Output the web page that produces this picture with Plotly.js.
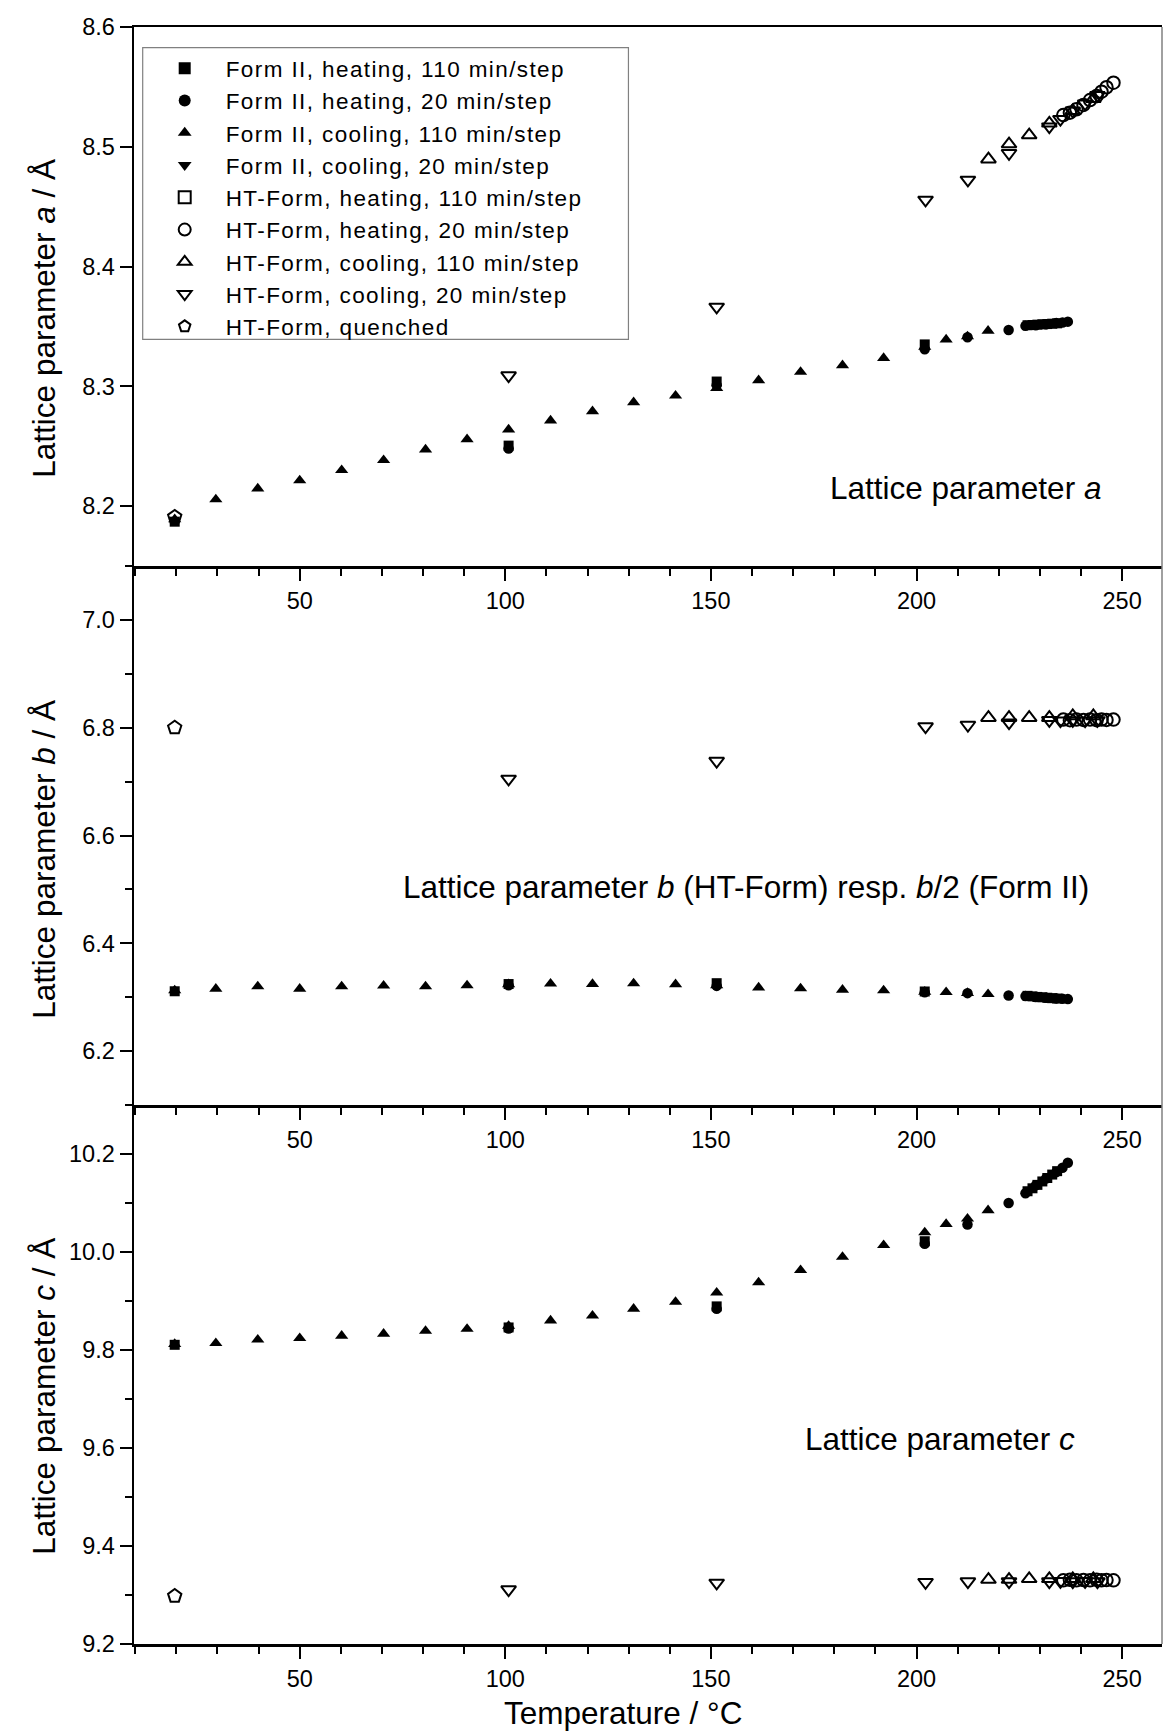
<!DOCTYPE html>
<html>
<head>
<meta charset="utf-8">
<script src="https://cdn.plot.ly/plotly-3.0.1.min.js"></script>
<style>
html,body{margin:0;padding:0;background:#fff;}
#chart{width:1163px;height:1731px;}
.legendtext{letter-spacing:1.4px;}
</style>
</head>
<body>
<div id="chart"></div>
<script>
// ---------------- DATA ----------------
// Form II, heating, 110 min/step (filled square)
const T_f2_heat110 = [19.6, 100.8, 151.4, 202.0, 227.0, 228.2, 229.4, 230.6, 231.8, 233.0, 234.2];
const a_f2_heat110 = [8.187, 8.2505, 8.304, 8.335, 8.3510, 8.3512, 8.3515, 8.3518, 8.3520, 8.3523, 8.3526];
const b_f2_heat110 = [6.3110, 6.3244, 6.3260, 6.3106, 6.3025, 6.3015, 6.3005, 6.2998, 6.2990, 6.2982, 6.2975];
const c_f2_heat110 = [9.8106, 9.8460, 9.8890, 10.0220, 10.124, 10.130, 10.137, 10.144, 10.151, 10.158, 10.165];

// Form II, heating, 20 min/step (filled circle)
const T_f2_heat20 = [100.8, 151.4, 202.0, 212.4, 222.4, 226.5, 229.0, 231.5, 234.0, 235.5, 236.8];
const a_f2_heat20 = [8.2480, 8.3010, 8.3310, 8.3410, 8.3470, 8.3505, 8.3510, 8.3518, 8.3528, 8.3533, 8.3540];
const b_f2_heat20 = [6.3220, 6.3210, 6.3090, 6.3075, 6.3031, 6.3020, 6.3005, 6.2990, 6.2978, 6.2970, 6.2965];
const c_f2_heat20 = [9.8440, 9.8840, 10.0170, 10.0560, 10.1000, 10.1200, 10.1360, 10.1500, 10.1630, 10.1720, 10.1820];

// Form II, cooling, 110 min/step (filled triangle up)
const T_f2_cool110 = [19.6, 29.6, 39.8, 50.0, 60.2, 70.4, 80.6, 90.7, 100.8, 111.0, 121.2, 131.2, 141.4, 151.4, 161.6, 171.8, 182.0, 192.0, 202.0, 207.2, 212.4, 217.4];
const a_f2_cool110 = [8.189, 8.2056, 8.2147, 8.2214, 8.2300, 8.2383, 8.2472, 8.2558, 8.2639, 8.2714, 8.2792, 8.2867, 8.2922, 8.2986, 8.3050, 8.3120, 8.3175, 8.3236, 8.3330, 8.3390, 8.3417, 8.3464];
const b_f2_cool110 = [6.3125, 6.3156, 6.3200, 6.3156, 6.3200, 6.3213, 6.3200, 6.3219, 6.3240, 6.3250, 6.3244, 6.3256, 6.3238, 6.3220, 6.3180, 6.3163, 6.3138, 6.3125, 6.3100, 6.3094, 6.3078, 6.3056];
const c_f2_cool110 = [9.8120, 9.8140, 9.8210, 9.8240, 9.8290, 9.8330, 9.8390, 9.8430, 9.8490, 9.8600, 9.8700, 9.8840, 9.8980, 9.9170, 9.9380, 9.9630, 9.9900, 10.0140, 10.0400, 10.0570, 10.0680, 10.0850];

// Form II, cooling, 20 min/step (filled triangle down) - no separately visible points (legend entry only)
const T_f2_cool20 = [null];
const a_f2_cool20 = [null];
const b_f2_cool20 = [null];
const c_f2_cool20 = [null];

// HT-Form, heating, 110 min/step (open square) - no separately visible points (legend entry only)
const T_ht_heat110 = [null];
const a_ht_heat110 = [null];
const b_ht_heat110 = [null];
const c_ht_heat110 = [null];

// HT-Form, heating, 20 min/step (open circle)
const T_ht_heat20 = [235.7, 237.3, 238.9, 240.6, 242.2, 243.8, 245.0, 246.2, 247.9];
const a_ht_heat20 = [8.5265, 8.5285, 8.5313, 8.5349, 8.5390, 8.5424, 8.5460, 8.5497, 8.5535];
const b_ht_heat20 = [6.8150, 6.8140, 6.8150, 6.8145, 6.8150, 6.8140, 6.8150, 6.8145, 6.8150];
const c_ht_heat20 = [9.3300, 9.3310, 9.3300, 9.3305, 9.3300, 9.3310, 9.3300, 9.3305, 9.3300];

// HT-Form, cooling, 110 min/step (open triangle up)
const T_ht_cool110 = [217.5, 222.5, 227.4, 232.3, 238.0, 243.0];
const a_ht_cool110 = [8.4896, 8.5023, 8.5098, 8.5196, 8.5300, 8.5400];
const b_ht_cool110 = [6.8186, 6.8186, 6.8186, 6.8186, 6.8217, 6.8217];
const c_ht_cool110 = [9.3315, 9.3315, 9.3330, 9.3330, 9.3330, 9.3330];

// HT-Form, cooling, 20 min/step (open triangle down)
const T_ht_cool20 = [100.8, 151.4, 202.2, 212.5, 222.5, 232.3, 235.0, 238.0, 241.0, 244.0];
const a_ht_cool20 = [8.3090, 8.3663, 8.4556, 8.4723, 8.4946, 8.5168, 8.5230, 8.5300, 8.5360, 8.5430];
const b_ht_cool20 = [6.7050, 6.7380, 6.8020, 6.8050, 6.8093, 6.8136, 6.8130, 6.8135, 6.8130, 6.8135];
const c_ht_cool20 = [9.3110, 9.3247, 9.3260, 9.3275, 9.3275, 9.3275, 9.3280, 9.3275, 9.3280, 9.3275];

// HT-Form, quenched (open pentagon)
const T_ht_quench = [19.6];
const a_ht_quench = [8.191];
const b_ht_quench = [6.800];
const c_ht_quench = [9.298];

// Axis / label texts
const xTitle = 'Temperature / °C';
const yTitles = ['Lattice parameter <i>a</i> / Å', 'Lattice parameter <i>b</i> / Å', 'Lattice parameter <i>c</i> / Å'];
const panelLabels = ['Lattice parameter <i>a</i>', 'Lattice parameter <i>b</i> (HT-Form) resp. <i>b</i>/2 (Form II)', 'Lattice parameter <i>c</i>'];

// ---------------- BUILD ----------------
const FONT = 'Liberation Sans, Arial, Helvetica, sans-serif';

const series = [
  {name: 'Form II, heating, 110 min/step', T: T_f2_heat110, v: [a_f2_heat110, b_f2_heat110, c_f2_heat110], sym: 'square', size: 10, open: false},
  {name: 'Form II, heating, 20 min/step', T: T_f2_heat20, v: [a_f2_heat20, b_f2_heat20, c_f2_heat20], sym: 'circle', size: 10.5, open: false},
  {name: 'Form II, cooling, 110 min/step', T: T_f2_cool110, v: [a_f2_cool110, b_f2_cool110, c_f2_cool110], sym: 'triangle-up', size: 11.5, open: false},
  {name: 'Form II, cooling, 20 min/step', T: T_f2_cool20, v: [a_f2_cool20, b_f2_cool20, c_f2_cool20], sym: 'triangle-down', size: 11.5, open: false},
  {name: 'HT-Form, heating, 110 min/step', T: T_ht_heat110, v: [a_ht_heat110, b_ht_heat110, c_ht_heat110], sym: 'square-open', size: 12, open: true},
  {name: 'HT-Form, heating, 20 min/step', T: T_ht_heat20, v: [a_ht_heat20, b_ht_heat20, c_ht_heat20], sym: 'circle-open', size: 12.5, open: true},
  {name: 'HT-Form, cooling, 110 min/step', T: T_ht_cool110, v: [a_ht_cool110, b_ht_cool110, c_ht_cool110], sym: 'triangle-up-open', size: 13, open: true},
  {name: 'HT-Form, cooling, 20 min/step', T: T_ht_cool20, v: [a_ht_cool20, b_ht_cool20, c_ht_cool20], sym: 'triangle-down-open', size: 13, open: true},
  {name: 'HT-Form, quenched', T: T_ht_quench, v: [a_ht_quench, b_ht_quench, c_ht_quench], sym: 'pentagon-open', size: 14, open: true}
];

const axX = ['x', 'x2', 'x3'];
const axY = ['y', 'y2', 'y3'];
const traces = [];
series.forEach((s, i) => {
  for (let p = 0; p < 3; p++) {
    traces.push({
      type: 'scatter', mode: 'markers',
      x: s.T, y: s.v[p],
      xaxis: axX[p], yaxis: axY[p],
      name: s.name, legendgroup: 'g' + i, legendrank: i + 1,
      showlegend: p === 0,
      cliponaxis: true,
      marker: {symbol: s.sym, size: s.size, color: '#000',
               line: {color: '#000', width: s.open ? 2 : 0}}
    });
  }
});

// plot area geometry (pixels)
const L = 134.3, R = 1162, TOP = 27, BOT = 1644;
const W = R - L, H = BOT - TOP;
const px = v => (v - L) / W;
const py = v => (BOT - v) / H;

const tickFont = {family: FONT, size: 23.5, color: '#000'};
function xAxis(anchor, mirror) {
  return {
    anchor: anchor, domain: [0, 1], range: [9.7, 259.7],
    showline: true, linecolor: '#000', linewidth: 2.5, mirror: mirror,
    ticks: 'outside', ticklen: 12, tickwidth: 2, tickcolor: '#000',
    tick0: 0, dtick: 50, tickfont: tickFont,
    minor: {tick0: 0, dtick: 10, ticks: 'outside', ticklen: 7, tickwidth: 2, tickcolor: '#000', showgrid: false},
    showgrid: false, zeroline: false, fixedrange: true
  };
}
function yAxis(anchor, domain, range, dtick, minor) {
  const ax = {
    anchor: anchor, domain: domain, range: range,
    showline: true, linecolor: '#000', linewidth: 2.5,
    ticks: 'outside', ticklen: 12, tickwidth: 2, tickcolor: '#000',
    tick0: 0, dtick: dtick, tickformat: '.1f', tickfont: tickFont,
    showgrid: false, zeroline: false, fixedrange: true
  };
  if (minor) ax.minor = {tick0: 0, dtick: minor, ticks: 'outside', ticklen: 7, tickwidth: 2, tickcolor: '#000', showgrid: false};
  return ax;
}

const annFont = {family: FONT, size: 31.5, color: '#000'};
const annotations = [
  {text: xTitle, x: px(623), y: py(1713), xref: 'paper', yref: 'paper', xanchor: 'center', yanchor: 'middle', showarrow: false, font: annFont},
  {text: yTitles[0], x: px(44), y: py(318), xref: 'paper', yref: 'paper', xanchor: 'center', yanchor: 'middle', textangle: -90, showarrow: false, font: annFont},
  {text: yTitles[1], x: px(44), y: py(859), xref: 'paper', yref: 'paper', xanchor: 'center', yanchor: 'middle', textangle: -90, showarrow: false, font: annFont},
  {text: yTitles[2], x: px(44), y: py(1396), xref: 'paper', yref: 'paper', xanchor: 'center', yanchor: 'middle', textangle: -90, showarrow: false, font: annFont},
  {text: panelLabels[0], x: px(966), y: py(488), xref: 'paper', yref: 'paper', xanchor: 'center', yanchor: 'middle', showarrow: false, font: annFont},
  {text: panelLabels[1], x: px(746), y: py(887), xref: 'paper', yref: 'paper', xanchor: 'center', yanchor: 'middle', showarrow: false, font: annFont},
  {text: panelLabels[2], x: px(940), y: py(1439), xref: 'paper', yref: 'paper', xanchor: 'center', yanchor: 'middle', showarrow: false, font: annFont}
];

// legend frame (pixels of the reference)
const LEG = {x0: 143, y0: 47.7, x1: 628.6, y1: 339.3};

const layout = {
  width: 1163, height: 1731,
  margin: {l: L, r: 1163 - R, t: TOP, b: 1731 - BOT, pad: 0},
  paper_bgcolor: '#fff', plot_bgcolor: '#fff',
  font: {family: FONT, color: '#000'},
  showlegend: true,
  legend: {
    x: px(LEG.x0 + 1), y: py(LEG.y0 - 0.5), xanchor: 'left', yanchor: 'top',
    borderwidth: 0, bgcolor: 'rgba(0,0,0,0)',
    font: {family: FONT, size: 22.5, color: '#000'},
    itemwidth: 72, itemsizing: 'constant', tracegroupgap: 0, traceorder: 'normal'
  },
  xaxis: xAxis('y', true),
  xaxis2: xAxis('y2', false),
  xaxis3: xAxis('y3', false),
  yaxis: yAxis('x', [2 / 3, 1], [8.15, 8.6], 0.1, null),
  yaxis2: yAxis('x2', [1 / 3, 2 / 3], [6.1, 7.1], 0.2, 0.1),
  yaxis3: yAxis('x3', [0, 1 / 3], [9.2, 10.3], 0.2, 0.1),
  annotations: annotations,
  shapes: [
    {type: 'line', xref: 'paper', yref: 'paper', x0: 1, x1: 1, y0: 0, y1: 1, line: {color: '#808080', width: 1.5}},
    {type: 'rect', xref: 'paper', yref: 'paper', layer: 'below',
     x0: px(LEG.x0), x1: px(LEG.x1), y0: py(LEG.y1), y1: py(LEG.y0),
     line: {color: '#808080', width: 1.2}, fillcolor: '#fff'}
  ]
};

Plotly.newPlot('chart', traces, layout, {staticPlot: true, displayModeBar: false});
</script>
</body>
</html>
